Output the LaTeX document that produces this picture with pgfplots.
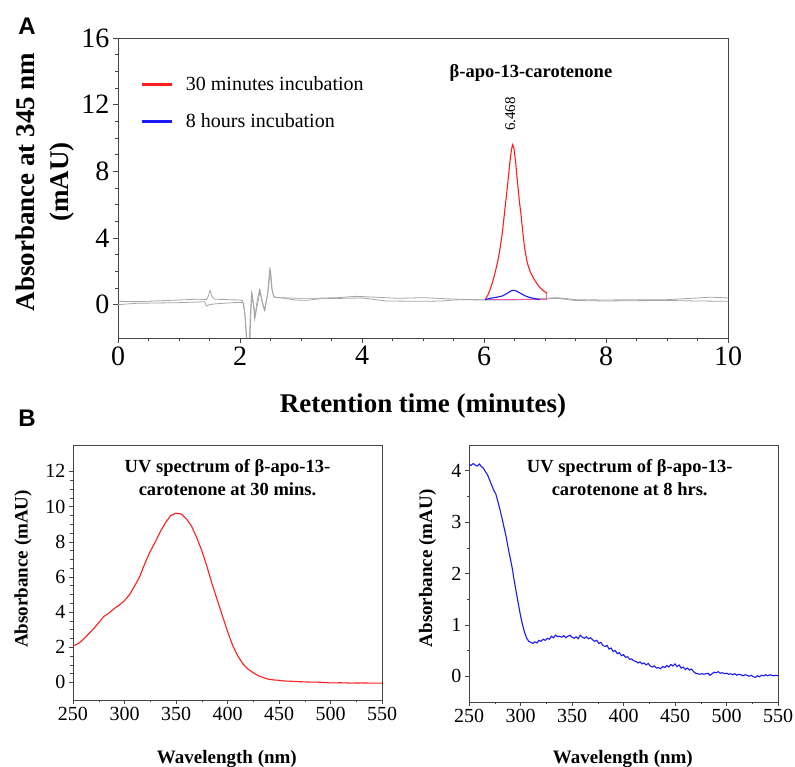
\documentclass[border=0pt]{standalone}
\usepackage{pgfplots}
\pgfplotsset{compat=1.18}
\usepackage{fontspec}
\setmainfont{Liberation Serif}
\setsansfont{Liberation Sans}
\definecolor{tracegray}{RGB}{165,165,165}
\definecolor{peakred}{RGB}{255,30,30}
\definecolor{peakblue}{RGB}{25,25,255}
\definecolor{basepink}{RGB}{240,90,180}
\definecolor{axgray}{RGB}{70,70,70}

\pgfplotsset{
  panel/.style={
    scale only axis,
    tick align=outside,
    tick pos=left,
    axis line style={axgray},
    every tick/.style={axgray},
    /pgf/number format/assume math mode=true,
  }
}

\begin{document}
\begin{tikzpicture}
\path[use as bounding box] (0,0) rectangle (795pt,767pt);

% ---- panel A : chromatogram ----
\begin{axis}[panel,
  at={(118pt,429pt)}, anchor=south west,
  width=610pt, height=300pt,
  xmin=0, xmax=10, ymin=-2, ymax=16,
  xtick={0,2,...,10}, ytick={0,4,...,16},
  minor x tick num=3, minor y tick num=3,
  major tick length=5pt, minor tick length=3pt,
  tick label style={font=\fontsize{28}{32}\selectfont},
  xlabel={Retention time (minutes)},
  xlabel style={at={(axis description cs:0.5,-0.228)}, anchor=center,
    font=\fontsize{27}{32}\selectfont\bfseries},
  ylabel={Absorbance at 345 nm\\(mAU)},
  ylabel style={at={(axis description cs:-0.12,0.52)}, anchor=center, rotate=0,
    align=center, font=\fontsize{27}{34}\selectfont\bfseries},
  legend style={at={(axis description cs:0.031,0.885)}, anchor=north west,
    draw=none, fill=none, font=\fontsize{20}{24}\selectfont,
    row sep=18pt, column sep=11pt, nodes={inner sep=2pt}},
  legend cell align=left,
  legend image code/.code={\draw[#1,line width=2.8pt] (0pt,0pt) -- (30pt,0pt);},
]
\addplot[tracegray, line width=0.8pt, forget plot] table {
0 0.2
0.3 0.18
0.6 0.22
1.0 0.28
1.3 0.33
1.45 0.3
1.48 0.5
1.51 0.86
1.54 0.5
1.58 0.33
1.8 0.3
2.0 0.28
2.04 0.25
2.08 -0.5
2.11 -2.5
2.15 -2.5
2.17 -0.5
2.19 0.7
2.22 0
2.24 -0.85
2.28 0.2
2.32 0.9
2.36 0.2
2.4 -0.35
2.45 0.6
2.49 2.25
2.52 1.0
2.55 0.5
2.6 0.42
2.8 0.4
3.0 0.38
3.2 0.38
3.6 0.42
3.9 0.5
4.2 0.45
4.6 0.38
5.0 0.42
5.4 0.35
5.8 0.3
6.0 0.3
6.5 0.3
7.0 0.38
7.2 0.42
7.5 0.3
8.0 0.28
8.5 0.3
9.0 0.3
9.5 0.4
9.7 0.45
9.9 0.42
10 0.4
};
\addplot[tracegray, line width=0.8pt, forget plot] table {
0 0.0
0.3 0.08
0.6 0.1
1.0 0.12
1.3 0.16
1.42 0.18
1.45 -0.08
1.5 0.0
1.6 0.05
1.8 0.1
2.0 0.14
2.06 0.1
2.09 -1.0
2.12 -2.5
2.16 -2.5
2.18 -0.3
2.2 0.6
2.25 -0.7
2.29 0.1
2.33 0.85
2.37 0.1
2.41 -0.3
2.46 0.8
2.5 2.1
2.53 0.8
2.56 0.45
2.7 0.4
2.9 0.28
3.1 0.26
3.3 0.35
3.7 0.38
4.0 0.4
4.4 0.22
5.0 0.2
5.3 0.22
5.6 0.3
6.0 0.28
6.5 0.28
7.0 0.35
7.2 0.38
7.5 0.25
8.0 0.22
8.5 0.24
9.0 0.25
9.5 0.22
10 0.2
};
\addplot[basepink, line width=1pt, forget plot] table {
6.02 0.3
7.03 0.3
7.03 0.75
};
\addplot[peakred, line width=1.1pt] table {
6.02 0.30
6.06 0.55
6.10 0.90
6.14 1.35
6.17 1.75
6.22 2.5
6.26 3.3
6.30 4.3
6.33 5.3
6.36 6.3
6.39 7.3
6.42 8.4
6.45 9.3
6.47 9.6
6.49 9.4
6.52 8.5
6.55 7.3
6.58 6.2
6.61 5.3
6.64 4.2
6.67 3.3
6.71 2.5
6.76 1.95
6.81 1.6
6.86 1.3
6.91 1.05
6.97 0.85
7.03 0.68
};
\addlegendentry{30 minutes incubation}
\addplot[peakblue, line width=1.1pt] table {
6.02 0.3
6.1 0.38
6.2 0.44
6.3 0.52
6.38 0.68
6.44 0.82
6.48 0.86
6.53 0.82
6.6 0.68
6.68 0.52
6.76 0.42
6.85 0.35
6.91 0.3
};
\addlegendentry{8 hours incubation}
\node[font=\fontsize{18.5}{22}\selectfont\bfseries] at (axis cs:6.77,13.9) {β-apo-13-carotenone};
\node[font=\fontsize{15}{18}\selectfont, rotate=90] at (axis cs:6.43,11.44) {6.468};
\end{axis}

% ---- panel B left : 30 min spectrum ----
\begin{axis}[panel,
  at={(73pt,67pt)}, anchor=south west,
  width=309pt, height=255pt,
  xmin=250, xmax=550, ymin=-1, ymax=13.5,
  xtick={250,300,...,550}, ytick={0,2,...,12},
  minor x tick num=1, minor y tick num=3,
  major tick length=4pt, minor tick length=2.5pt,
  tick label style={font=\fontsize{20}{24}\selectfont},
  xlabel={Wavelength (nm)},
  xlabel style={at={(axis description cs:0.498,-0.184)}, anchor=north,
    font=\fontsize{19}{23}\selectfont\bfseries},
  ylabel={Absorbance (mAU)},
  ylabel style={at={(axis description cs:-0.162,0.514)}, anchor=center,
    font=\fontsize{19}{23}\selectfont\bfseries},
]
\addplot[peakred, line width=1.1pt] table {
250 2.08
255 2.2
260 2.45
265 2.75
270 3.05
275 3.4
280 3.75
285 3.95
290 4.2
295 4.4
300 4.65
305 5.0
310 5.5
315 6.05
320 6.8
325 7.45
330 8.0
335 8.6
340 9.1
345 9.5
350 9.62
355 9.58
360 9.3
365 8.9
370 8.25
375 7.5
380 6.6
385 5.6
390 4.7
395 3.8
400 2.9
405 2.1
410 1.5
415 1.05
420 0.75
425 0.55
430 0.38
435 0.27
440 0.18
445 0.14
450 0.12
455 0.08
460 0.07
470 0.04
480 0.02
490 0.01
500 -0.03
510 -0.02
520 -0.04
530 -0.03
540 -0.04
550 -0.04
};
\node[font=\fontsize{18.5}{23}\selectfont\bfseries, align=center, anchor=north]
  at (axis description cs:0.5,0.957) {UV spectrum of β-apo-13-\\carotenone at 30 mins.};
\end{axis}

% ---- panel B right : 8 h spectrum ----
\begin{axis}[panel,
  at={(469pt,65pt)}, anchor=south west,
  width=309pt, height=257pt,
  xmin=250, xmax=550, ymin=-0.5, ymax=4.5,
  xtick={250,300,...,550}, ytick={0,1,...,4},
  minor x tick num=1, minor y tick num=1,
  major tick length=4pt, minor tick length=2.5pt,
  tick label style={font=\fontsize{20}{24}\selectfont},
  xlabel={Wavelength (nm)},
  xlabel style={at={(axis description cs:0.498,-0.176)}, anchor=north,
    font=\fontsize{19}{23}\selectfont\bfseries},
  ylabel={Absorbance (mAU)},
  ylabel style={at={(axis description cs:-0.134,0.52)}, anchor=center,
    font=\fontsize{19}{23}\selectfont\bfseries},
]
\addplot[peakblue, line width=1.1pt] table {
250 4.13
252 4.10
254 4.14
256 4.11
258 4.09
260 4.13
262 4.08
264 4.05
266 3.98
268 3.92
270 3.82
272 3.72
274 3.62
276 3.55
278 3.40
280 3.25
282 3.08
284 2.90
286 2.72
288 2.50
290 2.30
292 2.10
294 1.85
296 1.62
298 1.40
300 1.18
302 1.00
304 0.85
306 0.74
308 0.68
310 0.66
312 0.64
314 0.67
316 0.65
318 0.70
320 0.68
322 0.72
324 0.70
326 0.74
328 0.72
330 0.78
332 0.75
334 0.80
336 0.77
338 0.78
340 0.76
342 0.79
344 0.75
346 0.78
348 0.80
350 0.76
352 0.74
354 0.77
356 0.73
358 0.80
360 0.76
362 0.74
364 0.77
366 0.73
368 0.75
370 0.71
372 0.68
374 0.70
376 0.64
378 0.66
380 0.60
382 0.58
384 0.60
386 0.53
388 0.55
390 0.48
392 0.50
394 0.44
396 0.46
398 0.40
400 0.42
402 0.37
404 0.38
406 0.33
408 0.34
410 0.30
412 0.29
414 0.26
416 0.28
418 0.24
420 0.26
422 0.22
424 0.25
426 0.20
428 0.18
430 0.20
432 0.16
434 0.17
436 0.15
438 0.19
440 0.17
442 0.21
444 0.18
446 0.23
448 0.20
450 0.24
452 0.19
454 0.22
456 0.16
458 0.18
460 0.13
462 0.16
464 0.12
466 0.14
468 0.09
470 0.06
472 0.05
474 0.04
476 0.05
478 0.04
480 0.05
482 0.06
484 0.02
486 0.05
488 0.08
490 0.07
492 0.09
494 0.06
496 0.07
498 0.05
500 0.06
502 0.04
504 0.05
506 0.03
508 0.05
510 0.02
512 0.04
514 0.03
516 0.01
518 0.03
520 0.02
522 0.00
524 0.02
526 -0.01
528 -0.02
530 0.01
532 -0.01
534 0.02
536 0.01
538 0.03
540 0.01
542 0.03
544 0.02
546 0.01
548 0.02
550 0.01
};
\node[font=\fontsize{18.5}{23}\selectfont\bfseries, align=center, anchor=north]
  at (axis description cs:0.52,0.956) {UV spectrum of β-apo-13-\\carotenone at 8 hrs.};
\end{axis}

\node[font=\sffamily\bfseries\fontsize{24}{28}\selectfont] at (27pt,741pt) {A};
\node[font=\sffamily\bfseries\fontsize{24}{28}\selectfont] at (27pt,349pt) {B};
\end{tikzpicture}
\end{document}
